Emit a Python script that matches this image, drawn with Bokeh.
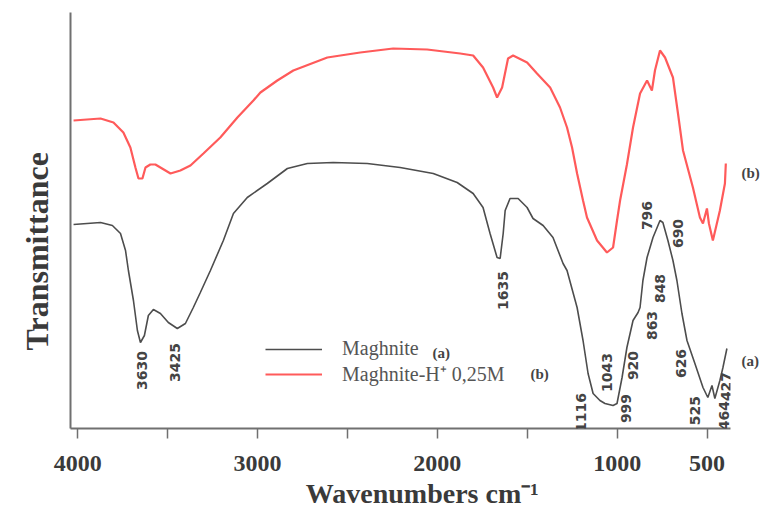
import math
from bokeh.plotting import figure
from bokeh.models import (Range1d, FixedTicker, Label, LabelSet, ColumnDataSource,
                          Legend, LegendItem, LinearAxis, Title)
from bokeh.core.properties import value
from bokeh.embed import file_html
from bokeh.resources import INLINE

# ---- data ----
# (a) Maghnite
wn_a = [4023, 3873, 3807, 3762, 3734, 3718, 3690, 3668, 3651, 3629, 3607, 3579, 3540,
        3496, 3446, 3401, 3357, 3318, 3262, 3190, 3134, 3057, 2946, 2834, 2723, 2579,
        2390, 2207, 2023, 1890, 1801, 1746, 1707, 1668, 1651, 1634, 1623, 1596, 1551,
        1501, 1468, 1412, 1357, 1301, 1279, 1223, 1190, 1162, 1134, 1096, 1068, 1023,
        1001, 973, 946, 912, 884, 873, 857, 834, 801, 762, 746, 718, 690, 668, 640,
        612, 568, 523, 496, 473, 457, 429, 412, 390]
t_a = [204, 206, 203, 195, 178, 158, 128, 98, 86, 93, 113, 119, 115,
       106, 100, 105, 121, 136, 158, 188, 215, 231, 245, 260, 265, 266,
       265, 261, 255, 246, 235, 221, 195, 171, 170, 195, 218, 230, 230,
       221, 210, 203, 191, 165, 158, 121, 88, 55, 35, 28, 25, 23,
       25, 51, 81, 108, 116, 121, 148, 171, 191, 208, 206, 188, 168, 148, 115,
       88, 65, 41, 31, 43, 30, 48, 61, 80]

# (b) Maghnite-H+ 0,25M
wn_b = [4023, 3873, 3801, 3746, 3707, 3679, 3662, 3640, 3623, 3596, 3568, 3540, 3484,
        3429, 3373, 3301, 3207, 3112, 3023, 2984, 2890, 2801, 2612, 2429, 2246, 2057,
        1873, 1801, 1746, 1690, 1668, 1640, 1607, 1579, 1501, 1446, 1373, 1318, 1279,
        1251, 1223, 1190, 1168, 1112, 1057, 1023, 1001, 984, 946, 912, 873, 834, 807,
        790, 762, 734, 690, 662, 634, 579, 540, 523, 501, 490, 468, 429, 401, 396]
t_b = [308, 310, 306, 296, 281, 261, 250, 250, 261, 264, 264, 261, 255,
       258, 263, 275, 291, 311, 328, 336, 348, 358, 371, 376, 380, 379,
       375, 373, 361, 341, 331, 341, 370, 373, 366, 355, 341, 321, 301,
       281, 255, 228, 211, 188, 176, 181, 208, 228, 264, 301, 335, 348, 338,
       358, 378, 371, 351, 315, 278, 241, 211, 205, 220, 205, 188, 218, 245, 265]

peak_text = ["3630", "3425", "1635", "1116", "1043", "999", "920", "863", "848",
             "796", "690", "626", "525", "464", "427"]
peak_wn = [3640, 3457, 1634, 1201, 1057, 951, 912, 807, 762, 834, 662, 646, 568, 407, 396]
peak_t = [58, 66, 138, 16, 56, 20, 63, 103, 140, 213, 195, 65, 18, 13, 42]

tick_values = [4000, 3500, 3000, 2500, 2000, 1500, 1000, 500]
tick_labels = ["4000", "", "3000", "", "2000", "", "1000", "500"]

legend_labels = ["Maghnite", "Maghnite-H\u207a 0,25M"]
series_tags = ["(a)", "(b)"]
tag_t = [68, 256]          # height of the end-of-curve tags
xtitle_wn = 2084           # wavenumber under which the x title is centred

BLACK = "#4d4d4d"
RED = "#ff5a5a"
SERIF = "Liberation Serif"
TXT = "#3a3a3a"

p = figure(width=762, height=512, output_backend="svg", toolbar_location=None,
           x_range=Range1d(4040, 370), y_range=Range1d(0, 416),
           min_border_left=70, min_border_right=31, min_border_top=12,
           min_border_bottom=84)
p.background_fill_color = "white"
p.border_fill_color = "white"
p.outline_line_color = None
p.grid.visible = False

ra = p.line(wn_a, t_a, line_color=BLACK, line_width=1.6)
rb = p.line(wn_b, t_b, line_color=RED, line_width=2.2)

# x axis
xa = p.xaxis[0]
xa.ticker = FixedTicker(ticks=tick_values)
xa.major_label_overrides = {v: s for v, s in zip(tick_values, tick_labels)}
xa.axis_line_color = "#707070"
xa.axis_line_width = 2
xa.major_tick_line_color = "#707070"
xa.major_tick_line_width = 1.5
xa.major_tick_out = 10
xa.major_tick_in = 0
xa.minor_tick_line_color = None
xa.major_label_standoff = 17
xa.major_label_text_font = SERIF
xa.major_label_text_font_style = "bold"
xa.major_label_text_font_size = "24px"
xa.major_label_text_color = TXT

# x title as the single label of a second, invisible bottom axis
xt_axis = LinearAxis(ticker=FixedTicker(ticks=[xtitle_wn]),
                     major_label_overrides={xtitle_wn: "Wavenumbers cm\u207b\u00b9"})
xt_axis.axis_line_color = None
xt_axis.major_tick_line_color = None
xt_axis.minor_tick_line_color = None
xt_axis.major_tick_out = 0
xt_axis.major_tick_in = 0
xt_axis.major_label_standoff = 4
xt_axis.major_label_text_font = SERIF
xt_axis.major_label_text_font_style = "bold"
xt_axis.major_label_text_font_size = "28px"
xt_axis.major_label_text_color = TXT
p.add_layout(xt_axis, "below")

# y axis: plain line, no ticks
ya = p.yaxis[0]
ya.ticker = FixedTicker(ticks=[])
ya.axis_line_color = "#707070"
ya.axis_line_width = 2
ya.major_tick_line_color = None
ya.major_tick_out = 0
ya.major_tick_in = 0
ya.minor_tick_line_color = None
ya.major_label_text_font_size = "0px"

# y title
p.add_layout(Title(text="Transmittance", align="left", offset=78, standoff=28,
                   vertical_align="top",
                   text_font=SERIF, text_font_style="bold", text_font_size="32px",
                   text_color=TXT), "left")

# tags at the right end of each curve, as labels of an invisible right axis
ra_axis = LinearAxis(ticker=FixedTicker(ticks=tag_t),
                     major_label_overrides={v: s for v, s in zip(tag_t, series_tags)})
ra_axis.axis_line_color = None
ra_axis.major_tick_line_color = None
ra_axis.minor_tick_line_color = None
ra_axis.major_tick_out = 0
ra_axis.major_tick_in = 0
ra_axis.major_label_standoff = 11
ra_axis.major_label_text_font = SERIF
ra_axis.major_label_text_font_style = "bold"
ra_axis.major_label_text_font_size = "15px"
ra_axis.major_label_text_color = "#444444"
p.add_layout(ra_axis, "right")

# peak labels
src = ColumnDataSource(dict(x=peak_wn, y=peak_t, text=peak_text))
p.add_layout(LabelSet(x="x", y="y", text="text", source=src, angle=math.pi / 2,
                      text_font=value("DejaVu Sans"), text_font_style="bold",
                      text_font_size="14px", text_color="#444444",
                      text_align="center", text_baseline="middle"))

# legend
legend = Legend(items=[LegendItem(label=legend_labels[0], renderers=[ra]),
                       LegendItem(label=legend_labels[1], renderers=[rb])],
                location=(195, 41), glyph_width=57, glyph_height=22,
                label_height=22, label_standoff=20, padding=0, margin=0,
                spacing=0, border_line_alpha=0, background_fill_alpha=0,
                label_text_font=SERIF, label_text_font_size="20px",
                label_text_color="#555555")
p.add_layout(legend)

p.add_layout(Label(x=362, y=76, x_units="screen", y_units="screen",
                   text=series_tags[0], text_font=SERIF, text_font_style="bold",
                   text_font_size="15px", text_color="#444444",
                   text_align="left", text_baseline="middle"))
p.add_layout(Label(x=460, y=55, x_units="screen", y_units="screen",
                   text=series_tags[1], text_font=SERIF, text_font_style="bold",
                   text_font_size="15px", text_color="#444444",
                   text_align="left", text_baseline="middle"))

open("out.html", "w").write(file_html(p, INLINE))
